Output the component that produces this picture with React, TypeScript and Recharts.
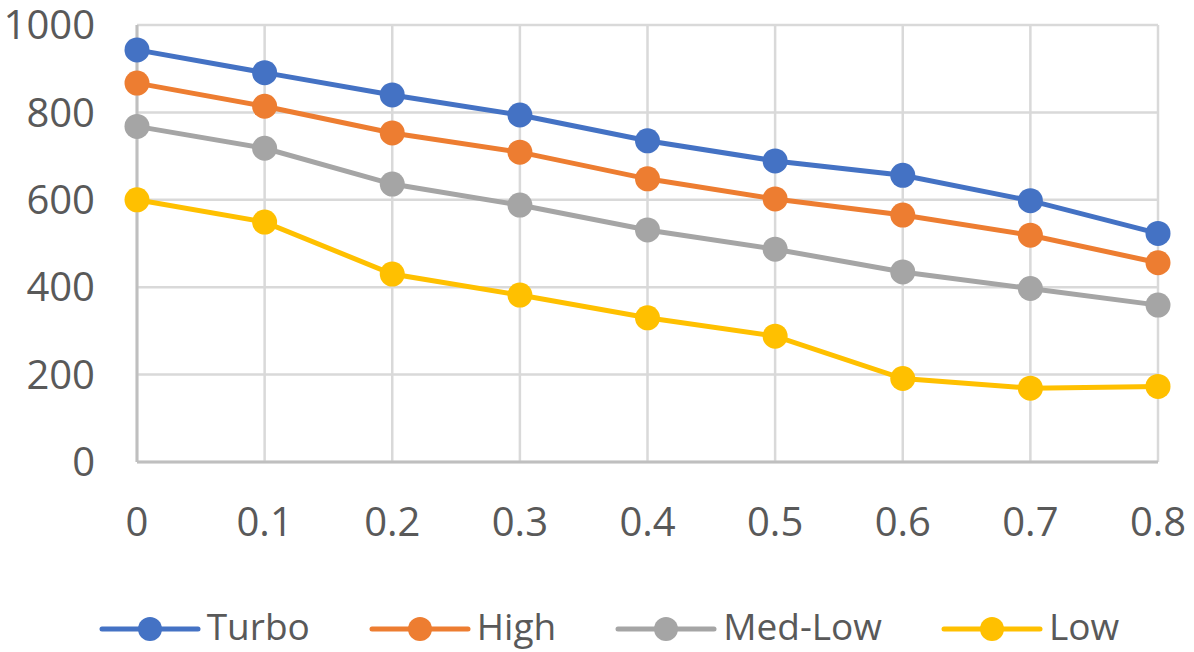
import React from 'react';
import { LineChart, Line, XAxis, YAxis, CartesianGrid, Legend } from 'recharts';

const xLabels = ['0', '0.1', '0.2', '0.3', '0.4', '0.5', '0.6', '0.7', '0.8'];
const turbo = [943, 891, 840, 794, 735, 689, 656, 598, 523];
const high = [867, 814, 753, 709, 648, 602, 565, 519, 456];
const medLow = [768, 718, 636, 588, 531, 487, 435, 397, 359];
const low = [600, 549, 430, 382, 330, 288, 191, 169, 173];
const yTicks = [0, 200, 400, 600, 800, 1000];

const seriesNames = ['Turbo', 'High', 'Med-Low', 'Low'];
const seriesKeys = ['turbo', 'high', 'medLow', 'low'];
const seriesColors = ['#4472C4', '#ED7D31', '#A5A5A5', '#FFC000'];

const data = xLabels.map((x, i) => ({
  x,
  turbo: turbo[i],
  high: high[i],
  medLow: medLow[i],
  low: low[i],
}));

const FONT = "'Open Sans', 'Noto Sans', sans-serif";
const TEXT = '#595959';

const renderLegend = () => (
  <div
    style={{
      height: 80,
      width: '100%',
      boxSizing: 'border-box',
      paddingLeft: 61,
      display: 'flex',
      justifyContent: 'center',
      alignItems: 'flex-start',
      fontFamily: FONT,
    }}
  >
    {seriesNames.map((name, i) => (
      <div
        key={name}
        style={{
          display: 'flex',
          alignItems: 'flex-start',
          marginLeft: i === 0 ? 0 : 60,
        }}
      >
        <svg width={100} height={30} style={{ marginTop: 42, marginRight: 7, overflow: 'visible', display: 'block' }}>
          <line x1={2} y1={15} x2={98} y2={15} stroke={seriesColors[i]} strokeWidth={5} strokeLinecap="round" />
          <circle cx={50} cy={15} r={12} fill={seriesColors[i]} />
        </svg>
        <span style={{ fontSize: 37, color: TEXT, lineHeight: 'normal', marginTop: 28, whiteSpace: 'nowrap' }}>{name}</span>
      </div>
    ))}
  </div>
);

export default function App() {
  return (
    <div style={{ position: 'absolute', left: 0, top: 0, width: 1194, height: 652, background: '#fff' }}>
      <LineChart
        width={1194}
        height={652}
        data={data}
        margin={{ top: 25, right: 36, left: 0, bottom: 0 }}
      >
        <CartesianGrid stroke="#d9d9d9" strokeWidth={2.5} vertical={true} horizontal={true} />
        <XAxis
          dataKey="x"
          height={110}
          tickSize={0}
          tickMargin={46}
          axisLine={{ stroke: '#bfbfbf', strokeWidth: 3 }}
          tickLine={false}
          tick={{ fill: TEXT, fontSize: 40, fontFamily: FONT }}
          interval={0}
        />
        <YAxis
          width={137}
          domain={[0, 1000]}
          ticks={yTicks}
          tickSize={0}
          tickMargin={42}
          axisLine={{ stroke: '#bfbfbf', strokeWidth: 3 }}
          tickLine={false}
          tick={{ fill: TEXT, fontSize: 40, fontFamily: FONT }}
          interval={0}
        />
        <Legend verticalAlign="bottom" height={80} content={renderLegend} />
        {seriesKeys.map((k, i) => (
          <Line
            key={k}
            type="linear"
            dataKey={k}
            name={seriesNames[i]}
            stroke={seriesColors[i]}
            strokeWidth={5}
            dot={{ r: 12.5, fill: seriesColors[i], stroke: seriesColors[i], strokeWidth: 0 }}
            activeDot={false}
            isAnimationActive={false}
          />
        ))}
      </LineChart>
    </div>
  );
}
